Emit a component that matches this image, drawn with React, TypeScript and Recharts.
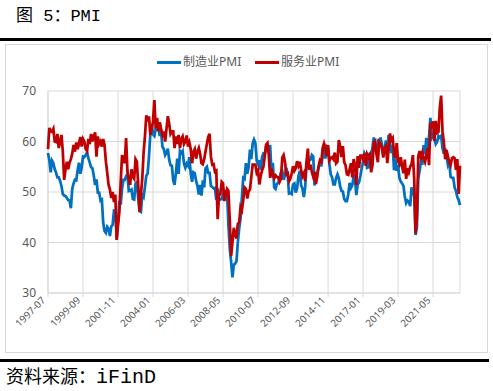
import React from 'react';
import { LineChart, Line, XAxis, YAxis, CartesianGrid } from 'recharts';

// Monthly, 1997-07 .. 2023-01
const START_YEAR = 1997;
const START_MONTH = 7;

const manufacturingPMI: number[] = [
  // 1997 Jul-Dec
  57.7, 56.3, 53.9, 56.2, 55.7, 54.5,
  // 1998
  53.8, 52.9, 52.9, 52.2, 51.2, 49.6, 49.3, 49.2, 48.8, 48.4, 48.3, 46.8,
  // 1999
  50.6, 51.7, 52.4, 52.3, 54.3, 55.8, 53.6, 54.8, 57.0, 56.9, 57.3, 57.8,
  // 2000
  56.7, 55.8, 54.9, 54.7, 53.2, 51.4, 52.5, 49.9, 49.9, 48.3, 48.5, 43.9,
  // 2001
  42.3, 41.9, 43.1, 42.7, 41.3, 43.2, 43.5, 46.3, 46.2, 40.8, 44.1, 48.2,
  // 2002
  47.5, 50.7, 52.4, 52.4, 53.1, 53.6, 50.2, 50.3, 50.5, 48.6, 48.5, 51.6,
  // 2003
  51.9, 48.8, 46.3, 46.1, 49.4, 49.0, 51.0, 53.2, 53.7, 57.0, 61.4, 63.4,
  // 2004
  61.4, 61.1, 62.5, 62.4, 62.8, 61.1, 62.0, 59.0, 58.5, 57.3, 57.8, 58.6,
  // 2005
  56.4, 55.3, 55.2, 52.3, 51.4, 53.8, 56.6, 53.6, 58.1, 57.7, 58.1, 55.6,
  // 2006
  54.8, 55.6, 55.2, 56.9, 53.7, 52.0, 53.9, 53.7, 52.2, 51.2, 49.5, 51.4,
  // 2007
  49.3, 52.3, 50.9, 54.7, 55.0, 53.8, 53.8, 51.2, 51.0, 50.7, 50.8, 48.4,
  // 2008
  50.7, 48.3, 48.6, 48.6, 49.6, 50.2, 50.0, 49.9, 43.5, 38.9, 36.2, 33.1,
  // 2009
  35.6, 35.8, 36.3, 40.1, 42.8, 44.8, 48.9, 52.8, 52.6, 55.7, 53.6, 54.9,
  // 2010
  58.4, 56.5, 59.6, 60.4, 59.7, 56.2, 55.5, 56.3, 54.4, 56.9, 57.6, 57.5,
  // 2011
  59.0, 59.3, 59.1, 59.1, 53.7, 55.8, 50.9, 50.6, 51.6, 51.8, 52.7, 53.9,
  // 2012
  54.1, 52.4, 53.4, 54.8, 53.5, 49.7, 49.8, 49.6, 51.5, 51.7, 49.9, 50.7,
  // 2013
  53.1, 54.2, 51.3, 50.7, 49.0, 50.9, 55.4, 55.7, 56.2, 56.4, 57.3, 57.0,
  // 2014
  51.3, 53.2, 53.7, 54.9, 55.4, 55.3, 57.1, 59.0, 56.6, 59.0, 58.7, 55.5,
  // 2015
  53.5, 52.9, 51.5, 51.5, 52.8, 53.5, 52.7, 51.1, 50.2, 50.1, 48.6, 48.2,
  // 2016
  48.2, 49.5, 51.8, 50.8, 51.3, 53.2, 52.6, 49.4, 51.5, 51.9, 53.2, 54.7,
  // 2017
  56.0, 57.7, 57.2, 54.8, 54.9, 57.8, 56.3, 58.8, 60.8, 58.7, 58.2, 59.7,
  // 2018
  59.1, 60.8, 59.3, 57.3, 58.7, 60.2, 58.1, 61.3, 59.8, 57.7, 59.3, 54.3,
  // 2019
  56.6, 54.2, 55.3, 52.8, 52.1, 51.7, 51.2, 49.1, 47.8, 48.3, 48.1, 47.2,
  // 2020
  50.9, 50.1, 49.1, 41.5, 43.1, 52.6, 54.2, 56.0, 55.4, 59.3, 57.5, 60.7,
  // 2021
  58.7, 60.8, 64.7, 60.7, 61.2, 60.6, 59.5, 59.9, 61.1, 60.8, 61.1, 58.7,
  // 2022
  57.6, 58.6, 57.1, 55.4, 56.1, 53.0, 52.8, 52.8, 50.9, 50.2, 49.0, 48.4,
  // 2023 Jan
  47.4,
];

const servicesPMI: number[] = [
  // 1997 Jul-Dec
  58.5, 62.7, 62.0, 61.9, 62.5, 60.0,
  // 1998
  59.9, 61.5, 58.7, 60.0, 61.3, 58.0, 52.4, 54.5, 56.0, 54.5, 55.8, 56.5,
  // 1999
  57.6, 59.3, 58.0, 59.8, 58.5, 59.5, 60.9, 59.0, 60.5, 60.0, 58.5, 58.1,
  // 2000
  60.5, 59.5, 61.5, 60.0, 61.0, 61.8, 57.0, 61.0, 59.5, 60.0, 59.0, 60.5,
  // 2001
  59.3, 56.0, 53.8, 51.4, 50.5, 48.8, 50.0, 48.0, 49.5, 40.5, 43.5, 46.0,
  // 2002
  52.0, 57.3, 56.5, 55.7, 60.7, 54.0, 52.5, 51.4, 54.5, 53.0, 52.6, 56.5,
  // 2003
  56.0, 51.4, 46.0, 49.5, 52.6, 57.8, 61.0, 65.2, 64.0, 65.0, 61.3, 62.5,
  // 2004
  64.0, 68.2, 62.6, 64.7, 62.0, 63.8, 62.5, 61.3, 62.0, 60.0, 62.5, 65.0,
  // 2005
  63.5, 61.5, 62.0, 62.0, 58.7, 61.0, 59.5, 61.3, 58.7, 60.5, 61.0, 59.5,
  // 2006
  60.0, 61.2, 59.0, 59.8, 58.5, 55.7, 57.9, 58.5, 56.6, 58.0, 58.7, 57.5,
  // 2007
  55.7, 55.5, 56.5, 58.0, 59.5, 60.9, 61.5, 57.0, 55.4, 55.5, 54.0, 54.2,
  // 2008
  44.6, 49.3, 49.6, 52.0, 51.7, 48.2, 49.5, 50.6, 50.2, 44.4, 37.3, 40.1,
  // 2009
  42.9, 41.6, 40.8, 43.7, 44.0, 47.0, 46.4, 48.4, 50.9, 50.6, 48.7, 50.1,
  // 2010
  50.5, 53.0, 55.4, 55.4, 55.4, 53.8, 54.3, 51.5, 53.2, 54.3, 55.0, 57.1,
  // 2011
  59.4, 59.7, 57.3, 52.8, 54.6, 53.3, 52.7, 53.3, 53.0, 52.9, 52.0, 52.6,
  // 2012
  56.8, 57.3, 56.0, 53.5, 53.7, 52.1, 52.6, 53.7, 55.1, 54.2, 54.7, 56.1,
  // 2013
  55.2, 56.0, 54.4, 53.1, 53.7, 52.2, 56.0, 58.6, 54.4, 55.4, 53.9, 53.0,
  // 2014
  54.0, 51.6, 53.1, 55.2, 56.3, 56.0, 58.7, 59.6, 58.6, 57.1, 59.3, 56.2,
  // 2015
  56.7, 56.9, 56.5, 57.8, 55.7, 56.0, 60.3, 59.0, 56.9, 59.1, 55.9, 55.3,
  // 2016
  53.5, 53.4, 54.5, 55.7, 52.9, 56.5, 55.5, 51.4, 57.1, 54.8, 57.2, 57.2,
  // 2017
  56.5, 57.6, 55.2, 57.5, 56.9, 57.4, 53.9, 55.3, 59.8, 60.1, 57.4, 55.9,
  // 2018
  59.9, 59.5, 58.8, 56.8, 58.6, 59.1, 55.7, 58.5, 61.6, 60.3, 60.7, 57.6,
  // 2019
  56.7, 59.7, 56.1, 55.5, 56.9, 55.1, 53.7, 56.4, 52.6, 54.7, 53.9, 55.0,
  // 2020
  55.5, 57.3, 52.5, 41.8, 45.4, 57.1, 58.1, 56.9, 57.8, 56.6, 55.9, 57.2,
  // 2021
  58.7, 55.3, 63.7, 62.7, 64.0, 60.1, 64.1, 61.7, 61.9, 66.7, 69.1, 62.0,
  // 2022
  59.9, 56.5, 58.3, 57.1, 55.9, 55.3, 56.7, 56.9, 56.7, 54.4, 56.5, 49.6,
  // 2023 Jan
  55.2,
];

const tickLabels: string[] = [
  '1997-07', '1999-09', '2001-11', '2004-01', '2006-03', '2008-05',
  '2010-07', '2012-09', '2014-11', '2017-01', '2019-03', '2021-05',
];

const yTicks: number[] = [30, 40, 50, 60, 70];

const monthLabel = (i: number) => {
  const total = (START_MONTH - 1) + i;
  const y = START_YEAR + Math.floor(total / 12);
  const m = (total % 12) + 1;
  return `${y}-${m < 10 ? '0' + m : m}`;
};

const categories: string[] = manufacturingPMI.map((_, i) => monthLabel(i));

const data = categories.map((date, i) => ({
  date,
  mfg: manufacturingPMI[i],
  svc: servicesPMI[i],
}));

const XTick = (props: any) => {
  const { x, y, payload } = props;
  return (
    <g transform={`translate(${x - 4},${y - 3})`}>
      <text
        x={0}
        y={0}
        dx={-2}
        dy={5}
        textAnchor="end"
        transform="rotate(-45)"
        fontSize={10}
        fill="#595959"
        fontFamily="'Noto Sans', sans-serif"
      >
        {payload.value}
      </text>
    </g>
  );
};

export default function App() {
  return (
    <div
      style={{
        position: 'fixed',
        left: 0,
        top: 0,
        width: 493,
        height: 391,
        background: '#fff',
        overflow: 'hidden',
      }}
    >
      <div
        style={{
          position: 'absolute',
          left: 16,
          top: 7,
          fontSize: 17,
          lineHeight: '20px',
          fontFamily: "'Liberation Mono', 'Noto Sans CJK SC', monospace",
          color: '#000',
          whiteSpace: 'nowrap',
        }}
      >
        图 5：PMI
      </div>
      <div style={{ position: 'absolute', left: 0, top: 38, width: 491, height: 2.5, background: '#000' }} />
      <div
        style={{
          position: 'absolute',
          left: 5,
          top: 44,
          width: 481,
          height: 307,
          border: '1px solid #D9D9D9',
        }}
      />
      <div
        style={{
          position: 'absolute',
          left: 157,
          top: 54,
          display: 'flex',
          alignItems: 'center',
          fontSize: 12,
          color: '#595959',
          fontFamily: "'Noto Sans', 'Noto Sans CJK SC', sans-serif",
          whiteSpace: 'nowrap',
          lineHeight: '16px',
        }}
      >
        <span style={{ display: 'inline-block', width: 24, height: 3, background: '#0070C0', marginRight: 2 }} />
        <span style={{ width: 72 }}>制造业PMI</span>
        <span style={{ display: 'inline-block', width: 24, height: 3, background: '#C00000', marginRight: 2 }} />
        <span>服务业PMI</span>
      </div>
      <div style={{ position: 'absolute', left: 5, top: 44 }}>
        <LineChart
          width={482}
          height={308}
          data={data}
          margin={{ top: 47, right: 27, left: 0, bottom: 0 }}
        >
          <CartesianGrid stroke="#D9D9D9" strokeWidth={1} />
          <XAxis
            dataKey="date"
            ticks={tickLabels}
            interval={0}
            height={59}
            tick={<XTick />}
            tickSize={4}
            tickLine={{ stroke: '#D9D9D9' }}
            axisLine={{ stroke: '#D9D9D9' }}
          />
          <YAxis
            type="number"
            domain={[30, 70]}
            ticks={yTicks}
            width={43}
            axisLine={false}
            tickLine={false}
            tickMargin={6}
            tick={{ fill: '#595959', fontSize: 12, fontFamily: "'Noto Sans', sans-serif" }}
          />
          <Line
            type="linear"
            dataKey="mfg"
            stroke="#0070C0"
            strokeWidth={2.75}
            dot={false}
            isAnimationActive={false}
          />
          <Line
            type="linear"
            dataKey="svc"
            stroke="#C00000"
            strokeWidth={2.75}
            dot={false}
            isAnimationActive={false}
          />
        </LineChart>
      </div>
      <div style={{ position: 'absolute', left: 0, top: 359, width: 489, height: 2.5, background: '#000' }} />
      <div
        style={{
          position: 'absolute',
          left: 6,
          top: 364,
          whiteSpace: 'nowrap',
          lineHeight: '22px',
          color: '#000',
        }}
      >
        <span style={{ fontSize: 18, fontFamily: "'Noto Sans CJK SC', sans-serif" }}>资料来源：</span>
        <span style={{ fontSize: 20, fontFamily: "'Liberation Mono', monospace" }}>iFinD</span>
      </div>
    </div>
  );
}
